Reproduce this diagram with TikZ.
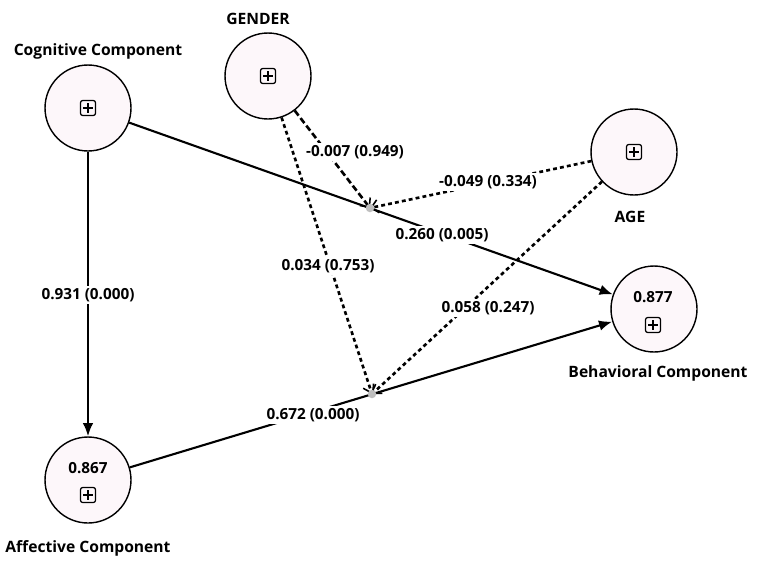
\documentclass[tikz,border=0pt]{standalone}
\usepackage{fontspec}
\setmainfont{Open Sans}
\usetikzlibrary{arrows.meta}
\definecolor{lvfill}{HTML}{FDF7FA}

\begin{document}
\begin{tikzpicture}[x=0.02cm,y=-0.02cm,
  lv/.style={draw,circle,fill=lvfill,line width=0.8pt,minimum size=1.72cm,inner sep=0pt},
  lvname/.style={font=\fontsize{8.9}{10}\selectfont\bfseries},
  coef/.style={font=\fontsize{8.7}{10}\selectfont\bfseries,fill=white,inner sep=1.2pt},
  rsq/.style={font=\fontsize{8.7}{10}\selectfont\bfseries},
  plusbox/.style={draw,rounded corners=1.2pt,minimum size=8.5pt,inner sep=0pt,line width=0.7pt,
    path picture={\draw[line width=0.7pt]
      ([yshift=2.6pt]path picture bounding box.center) -- ([yshift=-2.6pt]path picture bounding box.center)
      ([xshift=2.6pt]path picture bounding box.center) -- ([xshift=-2.6pt]path picture bounding box.center);}},
  modpt/.style={circle,fill=black!25,minimum size=0.17cm,inner sep=0pt},
  path/.style={-{Latex[length=7.5pt,width=6pt]},line width=1.2pt},
  mod/.style={-{Straight Barb[length=4pt,width=7.5pt,line width=0.9pt]},line width=1.5pt,dash pattern=on 2.2pt off 1.8pt},
  modg/.style={-{Straight Barb[length=4pt,width=7.5pt,line width=0.9pt]},line width=1.5pt,dash pattern=on 3.6pt off 1.8pt}]
\useasboundingbox (0,0) rectangle (766,575);

% latent variables
\node[lv] (cog) at (88,108) {};
\node[lv] (gen) at (268,76) {};
\node[lv] (age) at (634,152) {};
\node[lv] (beh) at (654,309) {};
\node[lv] (aff) at (88,480) {};

\node[plusbox] (cogp) at (cog) {};
\node[plusbox] (genp) at (gen) {};
\node[plusbox] (agep) at (age) {};
\node[plusbox] (behp) at (653,325) {};
\node[plusbox] (affp) at (88,495) {};
\node[rsq] (behr) at (653,297) {0.877};
\node[rsq] (affr) at (88,468) {0.867};

\node[lvname] (cogl) at (98,51) {Cognitive Component};
\node[lvname] (genl) at (258,19) {GENDER};
\node[lvname] (agel) at (630,217) {AGE};
\node[lvname] (behl) at (658,373) {Behavioral Component};
\node[lvname] (affl) at (88,548) {Affective Component};

% moderating effects
\coordinate (m1) at (370,208);
\coordinate (m2) at (372,394);

\draw[path] (cog) -- (aff);
\draw[path] (cog) -- (beh);
\draw[path] (aff) -- (beh);
\draw[modg] (gen) -- (m1);
\draw[mod] (age) -- (m1);
\draw[mod] (gen) -- (m2);
\draw[mod] (age) -- (m2);

\node[modpt] (m1d) at (m1) {};
\node[modpt] (m2d) at (m2) {};

\node[coef] (c1) at (88,295) {0.931 (0.000)};
\node[coef] (c2) at (442,235) {0.260 (0.005)};
\node[coef] (c3) at (313,415) {0.672 (0.000)};
\node[coef] (c4) at (355,152) {-0.007 (0.949)};
\node[coef] (c5) at (488,182) {-0.049 (0.334)};
\node[coef] (c6) at (328,266) {0.034 (0.753)};
\node[coef] (c7) at (488,308) {0.058 (0.247)};
\end{tikzpicture}
\end{document}
